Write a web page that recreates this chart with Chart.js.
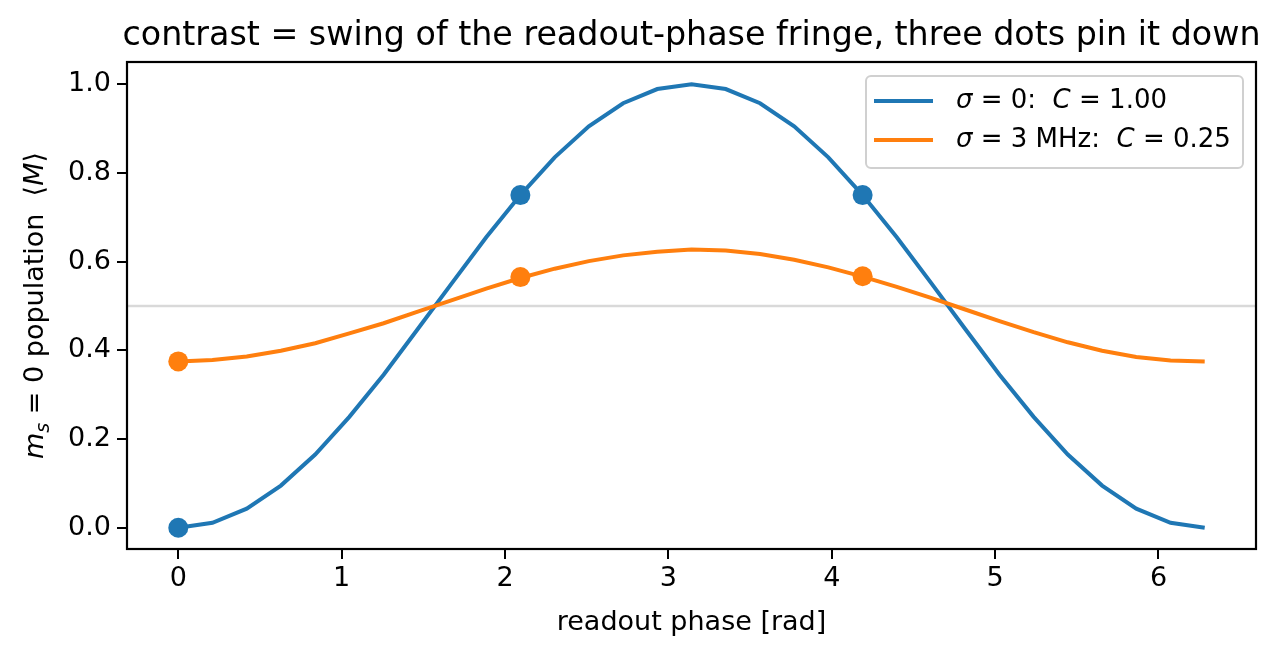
<!DOCTYPE html>
<html>
<head>
<meta charset="utf-8">
<script src="https://cdn.jsdelivr.net/npm/chart.js@4.4.1/dist/chart.umd.min.js"></script>
<style>
  html, body { margin: 0; padding: 0; background: #fff; }
  #wrap { width: 1281px; height: 657px; }
</style>
</head>
<body>
<div id="wrap"><canvas id="fringeChart" width="1281" height="657"></canvas></div>
<script>
// readout phase samples (rad)
const phase = [0, 0.209, 0.419, 0.628, 0.838, 1.047, 1.257, 1.466, 1.676, 1.885,
    2.094, 2.304, 2.513, 2.723, 2.932, 3.142, 3.351, 3.561, 3.770, 3.979,
    4.189, 4.398, 4.608, 4.817, 5.027, 5.236, 5.445, 5.655, 5.864, 6.074, 6.283];
// sigma = 0 fringe
const popNoDetuning = [0, 0.011, 0.043, 0.095, 0.165, 0.25, 0.345, 0.448, 0.552, 0.655,
    0.75, 0.835, 0.905, 0.957, 0.989, 1.0, 0.989, 0.957, 0.905, 0.835,
    0.75, 0.655, 0.552, 0.448, 0.345, 0.25, 0.165, 0.095, 0.043, 0.011, 0];
// sigma = 3 MHz fringe
const popDephased = [0.375, 0.378, 0.386, 0.399, 0.416, 0.438, 0.461, 0.487, 0.513, 0.539,
    0.563, 0.584, 0.601, 0.614, 0.622, 0.627, 0.625, 0.617, 0.604, 0.587,
    0.566, 0.543, 0.518, 0.492, 0.466, 0.441, 0.418, 0.399, 0.385, 0.377, 0.375];
// the three readout dots
const dotPhase = [0, 2.094, 4.189];
const dotNoDetuning = [0, 0.75, 0.75];
const dotDephased = [0.375, 0.565, 0.567];

const seriesLabels = ['σ = 0:  C = 1.00', 'σ = 3 MHz:  C = 0.25'];
const xTicks = [0, 1, 2, 3, 4, 5, 6];
const yTicks = [0, 0.2, 0.4, 0.6, 0.8, 1.0];
const midLevel = 0.5;

const BLUE = '#1f77b4';
const ORANGE = '#ff7f0e';
const FONT = "'DejaVu Sans', sans-serif";

function pts(xs, ys) {
    return xs.map((x, i) => ({ x: x, y: ys[i] }));
}

// frame, reference line, title, y label and legend in matplotlib style
const decorPlugin = {
    id: 'decor',
    beforeDatasetsDraw(chart) {
        const { ctx, chartArea: a, scales } = chart;
        const y = scales.y.getPixelForValue(midLevel);
        ctx.save();
        ctx.strokeStyle = '#d9d9d9';
        ctx.lineWidth = 2.5;
        ctx.beginPath();
        ctx.moveTo(a.left, y);
        ctx.lineTo(a.right, y);
        ctx.stroke();
        ctx.restore();
    },
    afterDraw(chart) {
        const { ctx, chartArea: a } = chart;
        ctx.save();
        // frame
        ctx.strokeStyle = '#000';
        ctx.lineWidth = 2.2;
        ctx.strokeRect(a.left, a.top, a.right - a.left, a.bottom - a.top);

        // title
        ctx.fillStyle = '#000';
        ctx.font = '33.3px ' + FONT;
        ctx.textAlign = 'center';
        ctx.textBaseline = 'alphabetic';
        ctx.fillText('contrast = swing of the readout-phase fringe, three dots pin it down',
            (a.left + a.right) / 2, 45);

        // y label with math parts
        const segs = [
            { t: 'm', f: 'italic 27px ' + FONT },
            { t: 's', f: 'italic 19px ' + FONT, dy: 6 },
            { t: ' = 0 population  ⟨', f: '27px ' + FONT },
            { t: 'M', f: 'italic 27px ' + FONT },
            { t: '⟩', f: '27px ' + FONT }
        ];
        let total = 0;
        segs.forEach(s => { ctx.font = s.f; s.w = ctx.measureText(s.t).width; total += s.w; });
        ctx.translate(43, (a.top + a.bottom) / 2);
        ctx.rotate(-Math.PI / 2);
        ctx.textAlign = 'left';
        let x = -total / 2;
        segs.forEach(s => {
            ctx.font = s.f;
            ctx.fillText(s.t, x, s.dy || 0);
            x += s.w;
        });
        ctx.setTransform(1, 0, 0, 1, 0, 0);
        ctx.restore();

        // legend
        ctx.save();
        const lx = 866, ly = 76, lw = 377, lh = 92;
        ctx.fillStyle = 'rgba(255,255,255,0.8)';
        ctx.strokeStyle = '#d0d0d0';
        ctx.lineWidth = 2;
        ctx.beginPath();
        ctx.roundRect(lx, ly, lw, lh, 5);
        ctx.fill();
        ctx.stroke();
        const colors = [BLUE, ORANGE];
        seriesLabels.forEach((label, i) => {
            const yy = 101 + i * 39;
            ctx.strokeStyle = colors[i];
            ctx.lineWidth = 4;
            ctx.beginPath();
            ctx.moveTo(874, yy);
            ctx.lineTo(933, yy);
            ctx.stroke();
            ctx.fillStyle = '#000';
            ctx.textBaseline = 'middle';
            let tx = 956;
            for (const ch of label) {
                ctx.font = (ch === 'σ' || ch === 'C' ? 'italic ' : '') + '26px ' + FONT;
                ctx.fillText(ch, tx, yy);
                tx += ctx.measureText(ch).width;
            }
        });
        ctx.restore();
    }
};

const ctx = document.getElementById('fringeChart').getContext('2d');
new Chart(ctx, {
    type: 'line',
    data: {
        datasets: [
            {
                label: seriesLabels[0],
                data: pts(phase, popNoDetuning),
                borderColor: BLUE,
                borderWidth: 4,
                pointRadius: 0,
                tension: 0,
                order: 4
            },
            {
                label: seriesLabels[1],
                data: pts(phase, popDephased),
                borderColor: ORANGE,
                borderWidth: 4,
                pointRadius: 0,
                tension: 0,
                order: 3
            },
            {
                label: 'dots0',
                data: pts(dotPhase, dotNoDetuning),
                showLine: false,
                pointRadius: 10,
                pointBackgroundColor: BLUE,
                pointBorderWidth: 0,
                order: 2
            },
            {
                label: 'dots1',
                data: pts(dotPhase, dotDephased),
                showLine: false,
                pointRadius: 10,
                pointBackgroundColor: ORANGE,
                pointBorderWidth: 0,
                order: 1
            }
        ]
    },
    options: {
        responsive: false,
        animation: false,
        events: [],
        layout: { padding: { left: 0, right: 25, top: 62, bottom: 0 } },
        plugins: {
            legend: { display: false },
            tooltip: { enabled: false },
            title: { display: false }
        },
        scales: {
            x: {
                type: 'linear',
                min: -0.314,
                max: 6.597,
                afterBuildTicks: s => { s.ticks = xTicks.map(v => ({ value: v })); },
                afterFit: s => { s.height = 108; },
                grid: { display: true, drawOnChartArea: false, drawTicks: true, tickLength: 10, color: '#000', lineWidth: 2 },
                border: { display: false },
                ticks: { color: '#000', font: { family: FONT, size: 27 }, padding: 4, maxRotation: 0,
                    callback: v => String(v) },
                title: { display: true, text: 'readout phase [rad]', color: '#000',
                    font: { family: FONT, size: 27 }, padding: { top: 0, bottom: 18 } }
            },
            y: {
                type: 'linear',
                min: -0.048,
                max: 1.05,
                afterBuildTicks: s => { s.ticks = yTicks.map(v => ({ value: v })); },
                afterFit: s => { s.width = 127; },
                grid: { display: true, drawOnChartArea: false, drawTicks: true, tickLength: 10, color: '#000', lineWidth: 2 },
                border: { display: false },
                ticks: { color: '#000', font: { family: FONT, size: 27 }, padding: 6,
                    callback: v => v.toFixed(1) }
            }
        }
    },
    plugins: [decorPlugin]
});
</script>
</body>
</html>
